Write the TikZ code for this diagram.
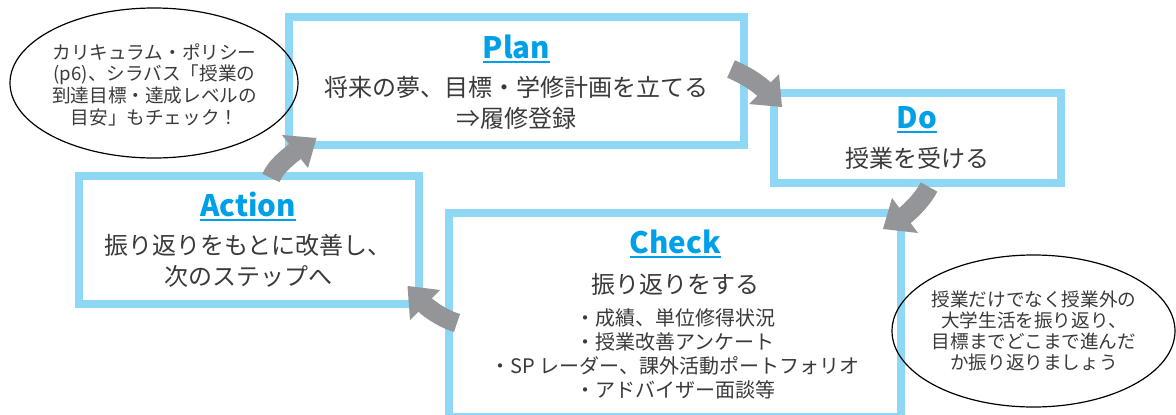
\documentclass[tikz,border=0pt]{standalone}
\usepackage{fontspec}
\setmainfont{Noto Sans CJK JP}
\usetikzlibrary{shapes.geometric}
\definecolor{boxblue}{HTML}{8ED8F6}
\definecolor{titleblue}{HTML}{00A0E9}
\definecolor{arrowgrey}{HTML}{939598}
\definecolor{txt}{HTML}{3A3A3A}
\begin{document}
\begin{tikzpicture}[x=1pt,y=-1pt,
  stepbox/.style={draw=boxblue, line width=8pt, fill=white, inner sep=0pt},
  titletext/.style={font=\fontsize{29.5}{29.5}\selectfont\bfseries, text=titleblue, inner sep=0pt, anchor=base},
  uline/.style={draw=titleblue, line width=1.4pt},
  jpbig/.style={font=\fontsize{24}{30.5}\selectfont, text=txt, align=center, inner sep=0pt},
  jpsmall/.style={font=\fontsize{20}{24}\selectfont, text=txt, align=center, inner sep=0pt},
  bubbletext/.style={font=\fontsize{18.6}{21.8}\selectfont, text=txt, align=center, inner sep=0pt},
  bubble/.style={draw=black, line width=1.2pt, ellipse, inner sep=0pt},
  shaft/.style={draw=arrowgrey, line width=19pt, line cap=butt},
  headtip/.style={fill=arrowgrey},
]
\useasboundingbox (0,0) rectangle (1176,415);
\fill[white] (0,0) rectangle (1176,415);

% boxes
\node[stepbox, minimum width=455pt, minimum height=128pt] (plan) at (516.5,81) {};
\node[stepbox, minimum width=287pt, minimum height=90pt] (do) at (917.5,138) {};
\node[stepbox, minimum width=452pt, minimum height=204pt] (check) at (675,315) {};
\node[stepbox, minimum width=340pt, minimum height=128pt] (action) at (249,240) {};

% Plan
\node[titletext] (ptitle) at (516.5,58) {Plan};
\draw[uline] ([yshift=-3.8pt]ptitle.base west) -- ([yshift=-3.8pt]ptitle.base east);
\node[jpbig] (ptext) at (516.5,102.75) {将来の夢、目標・学修計画を立てる\\⇒履修登録};

% Do
\node[titletext] (dtitle) at (917,128) {Do};
\draw[uline] ([yshift=-3.8pt]dtitle.base west) -- ([yshift=-3.8pt]dtitle.base east);
\node[jpbig] (dtext) at (917,158) {授業を受ける};

% Check
\node[titletext] (ctitle) at (675.5,253) {Check};
\draw[uline] ([yshift=-3.8pt]ctitle.base west) -- ([yshift=-3.8pt]ctitle.base east);
\node[jpbig] (ctext) at (675,284) {振り返りをする};
\node[jpsmall] (clist) at (675,354) {・成績、単位修得状況\\・授業改善アンケート\\・SP レーダー、課外活動ポートフォリオ\\・アドバイザー面談等};

% Action
\node[titletext] (atitle) at (248,216) {Action};
\draw[uline] ([yshift=-3.8pt]atitle.base west) -- ([yshift=-3.8pt]atitle.base east);
\node[jpbig] (atext) at (248,261) {振り返りをもとに改善し、\\次のステップへ};

% bubbles
\node[bubble, minimum width=288pt, minimum height=150pt] (b1) at (154,83) {};
\node[bubbletext] (b1text) at (154.5,84.75) {カリキュラム・ポリシー\\(p6)、シラバス「授業の\\到達目標・達成レベルの\\目安」もチェック！};
\node[bubble, minimum width=283pt, minimum height=152pt] (b2) at (1033.5,331) {};
\node[bubbletext, font=\fontsize{18.6}{21}\selectfont] (b2text) at (1034,331) {授業だけでなく授業外の\\大学生活を振り返り、\\目標までどこまで進んだ\\か振り返りましょう};

% arrows
% Plan -> Do
\coordinate (a1s) at (731,69);
\coordinate (a1e) at (766,91);
\draw[shaft] (a1s) .. controls (743,74) and (757,82) .. (a1e);
\fill[headtip] (749,104) -- (779,74) -- (782,107) -- cycle;
% Do -> Check
\coordinate (a2s) at (929,187);
\coordinate (a2e) at (902.6,217.3);
\draw[shaft] (a2s) .. controls (923.6,197.8) and (912.2,210.1) .. (a2e);
\fill[headtip] (892,198) -- (918,233) -- (883,229) -- cycle;
% Check -> Action
\coordinate (a3s) at (457,323);
\coordinate (a3e) at (422.9,302.9);
\draw[shaft] (a3s) .. controls (445.5,319.6) and (431.4,311.4) .. (a3e);
\fill[headtip] (410,320) -- (440,290) -- (407.5,286) -- cycle;
% Action -> Plan
\coordinate (a4s) at (271,178);
\coordinate (a4e) at (297.4,149.6);
\draw[shaft] (a4s) .. controls (275.3,166.8) and (287.9,157) .. (a4e);
\fill[headtip] (282,135) -- (308,168) -- (316.5,138) -- cycle;
\end{tikzpicture}
\end{document}
